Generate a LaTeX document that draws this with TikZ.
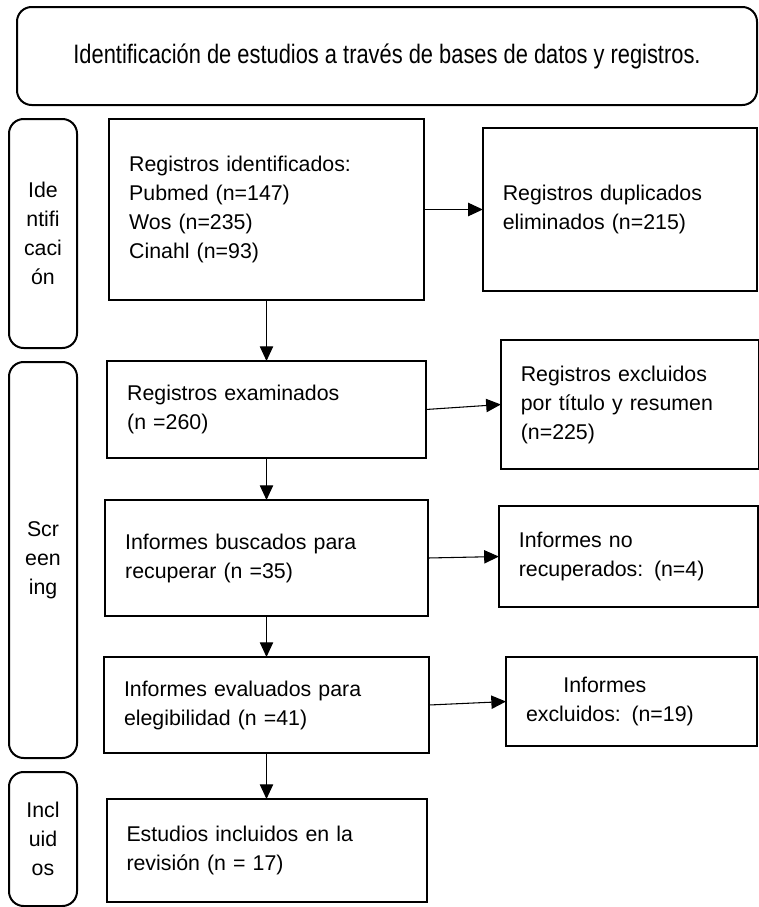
\documentclass[tikz,border=0pt]{standalone}
\usepackage{fontspec}
\setmainfont{Liberation Sans}
\newfontfamily\titlefont[FakeStretch=0.82]{Liberation Sans}
\usetikzlibrary{positioning,arrows.meta}

\begin{document}
\begin{tikzpicture}[
  x=0.75pt, y=-0.75pt,
  font=\fontsize{16}{21.75}\selectfont,
  box/.style={draw, line width=1.5pt, align=left, text width=#1, inner xsep=15pt, inner ysep=0pt, outer sep=0pt},
  phase/.style={draw, line width=1.5pt, rounded corners=11pt, align=center, minimum width=51pt, inner sep=0pt},
  arr/.style={-{Triangle[length=11pt,width=10pt]}, line width=0.8pt}
]
\useasboundingbox (0,0) rectangle (758,907);

\node[draw, line width=1.5pt, rounded corners=11pt, minimum width=555pt, minimum height=73.5pt, font=\titlefont\fontsize{20}{24}\selectfont] (title) at (387,56) {Identificación de estudios a través de bases de datos y registros.};

\node[phase, minimum height=171.75pt] (pid) at (43,233.5) {Ide\\ntifi\\caci\\ón};
\node[phase, minimum height=297pt] (pscr) at (43,560) {Scr\\een\\ing};
\node[phase, minimum height=100.5pt] (pinc) at (43,839) {Incl\\uid\\os};

\node[box=206pt, minimum height=135.75pt] (ident) at (266.5,209.5) {Registros identificados:\\Pubmed (n=147)\\Wos (n=235)\\Cinahl (n=93)};
\node[box=175.5pt, minimum height=122.25pt, right=44.25pt of ident] (dupl) {Registros duplicados\\eliminados (n=215)};
\node[box=209pt, minimum height=72.75pt, below=45.75pt of ident] (exam) {Registros examinados\\(n =260)};
\node[box=163.5pt, minimum height=96.75pt, right=56.25pt of exam, yshift=3.75pt] (excl) {Registros excluidos\\por título y resumen\\(n=225)};
\node[box=212pt, minimum height=87pt, below=31.5pt of exam] (busc) {Informes buscados para\\recuperar (n =35)};
\node[box=164pt, minimum height=75.75pt, right=53.25pt of busc, yshift=1.1pt] (norec) {Informes no\\recuperados: (n=4)};
\node[box=213.75pt, minimum height=72pt, below=30.75pt of busc] (eleg) {Informes evaluados para\\elegibilidad (n =41)};
\node[box=158pt, minimum height=66.75pt, right=57.75pt of eleg, yshift=2.6pt] (exclu) {\hspace*{28pt}Informes\\excluidos: (n=19)};
\node[box=210pt, minimum height=77.25pt, below=34.5pt of eleg] (incl) {Estudios incluidos en la\\revisión (n = 17)};

\draw[arr] (ident.east) -- (dupl.west);
\draw[arr] (ident.south) -- (exam.north);
\draw[arr] (exam.east) -- (excl.west);
\draw[arr] (exam.south) -- (busc.north);
\draw[arr] (busc.east) -- (norec.west);
\draw[arr] (busc.south) -- (eleg.north);
\draw[arr] (eleg.east) -- (exclu.west);
\draw[arr] (eleg.south) -- (incl.north);
\end{tikzpicture}
\end{document}
